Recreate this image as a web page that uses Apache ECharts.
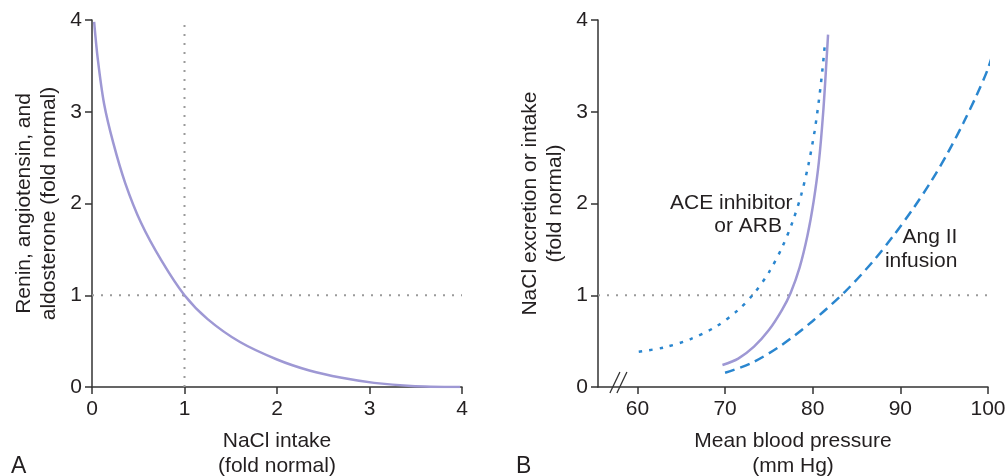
<!DOCTYPE html>
<html>
<head>
<meta charset="utf-8">
<script src="https://cdn.jsdelivr.net/npm/echarts@6/dist/echarts.min.js"></script>
<style>
html,body{margin:0;padding:0;background:#fff;}
#c{width:1008px;height:476px;}
</style>
</head>
<body>
<div id="c"></div>
<script>
// ---------- DATA ----------
// Panel A: hormone level vs NaCl intake
const curveA = [[0.023,3.98],[0.063,3.57],[0.13,3.09],[0.23,2.66],[0.36,2.22],[0.53,1.79],[0.75,1.38],[1.0,1.0],[1.25,0.74],[1.6,0.49],[2.0,0.30],[2.35,0.18],[2.7,0.10],[3.05,0.045],[3.45,0.012],[3.98,0.0]];
const refA_h = [[0,1],[4,1]];
const refA_v = [[1,0],[1,4]];
const ticksA = [0,1,2,3,4];

// Panel B: NaCl excretion vs mean blood pressure
const aceCurve = [[60.15,0.385],[63,0.43],[66,0.52],[69,0.66],[71.5,0.84],[73.3,1.02],[75,1.25],[76.5,1.52],[77.7,1.8],[78.7,2.1],[79.5,2.42],[80.2,2.78],[80.7,3.12],[81.1,3.45],[81.4,3.75]];
const normalCurve = [[69.7,0.24],[71.5,0.31],[73.3,0.44],[75.0,0.62],[76.5,0.84],[77.5,1.03],[78.5,1.30],[79.4,1.65],[80.1,2.02],[80.7,2.45],[81.2,3.0],[81.6,3.6],[81.75,3.84]];
const angCurve = [[70,0.155],[73,0.26],[76.5,0.46],[80,0.72],[83.7,1.04],[86.8,1.36],[89.3,1.66],[91.5,1.95],[93.5,2.24],[95.4,2.55],[97.2,2.88],[98.7,3.18],[100,3.47],[100.8,3.72]];
const refB_h = [[55.5,1],[100,1]];
const ticksB = [60,70,80,90,100];

const labelsB = [
  {text:'ACE inhibitor', x:77.7, y:2.0},
  {text:'or ARB', x:76.5, y:1.75},
  {text:'Ang II\ninfusion', x:96.5, y:1.5}
];
// ---------- CHART ----------
const FONT = '"Liberation Sans", Arial, Helvetica, sans-serif';
const FS = 21;
const TXT = '#231f20';
const AX = '#333333';
const PURPLE = '#9e98d4';
const BLUE = '#2a86cf';
const GREY = '#9a9a9a';

const chart = echarts.init(document.getElementById('c'), null, {renderer:'canvas'});

function xAxisCommon(extra){
  return Object.assign({
    type:'value',
    nameLocation:'middle',
    nameGap:42,
    nameTextStyle:{fontSize:FS, lineHeight:25, color:TXT, fontFamily:FONT},
    axisLine:{show:true, lineStyle:{color:AX, width:1.5}},
    axisTick:{show:true, length:7, lineStyle:{color:AX, width:1.5}},
    axisLabel:{fontSize:FS, color:TXT, fontFamily:FONT, margin:12},
    splitLine:{show:false}
  }, extra);
}
function yAxisCommon(extra){
  return Object.assign({
    type:'value', min:0, max:4, interval:1,
    nameLocation:'middle',
    nameGap:30,
    nameTextStyle:{fontSize:FS, lineHeight:25, color:TXT, fontFamily:FONT},
    axisLine:{show:true, lineStyle:{color:AX, width:1.5}},
    axisTick:{show:true, length:7, lineStyle:{color:AX, width:1.5}},
    axisLabel:{fontSize:FS, color:TXT, fontFamily:FONT, margin:10},
    splitLine:{show:false}
  }, extra);
}

const option = {
  animation:false,
  backgroundColor:'#fff',
  grid:[
    {left:92, right:546, top:20, bottom:89, containLabel:false, outerBoundsMode:'none'},
    {left:598, right:20, top:20, bottom:89, containLabel:false, outerBoundsMode:'none'}
  ],
  xAxis:[
    xAxisCommon({gridIndex:0, min:ticksA[0], max:ticksA[ticksA.length-1], interval:1, name:'NaCl intake\n(fold normal)'}),
    xAxisCommon({gridIndex:1, min:55.5, max:100, name:'Mean blood pressure\n(mm Hg)',
      axisTick:{show:true, length:7, lineStyle:{color:AX, width:1.5}, customValues:ticksB},
      axisLabel:{fontSize:FS, color:TXT, fontFamily:FONT, margin:12, customValues:ticksB}
    })
  ],
  yAxis:[
    yAxisCommon({gridIndex:0, name:'Renin, angiotensin, and\naldosterone (fold normal)'}),
    yAxisCommon({gridIndex:1, name:'NaCl excretion or intake\n(fold normal)'})
  ],
  series:[
    {type:'line', xAxisIndex:0, yAxisIndex:0, data:refA_h, symbol:'none', silent:true,
      lineStyle:{color:GREY, width:2, type:[2,7]}},
    {type:'line', xAxisIndex:0, yAxisIndex:0, data:refA_v, symbol:'none', silent:true,
      lineStyle:{color:GREY, width:2, type:[2,7]}},
    {type:'line', xAxisIndex:0, yAxisIndex:0, data:curveA, symbol:'none', smooth:0.3,
      lineStyle:{color:PURPLE, width:2.5}},
    {type:'line', xAxisIndex:1, yAxisIndex:1, data:refB_h, symbol:'none', silent:true,
      lineStyle:{color:GREY, width:2, type:[2,7]}},
    {type:'line', xAxisIndex:1, yAxisIndex:1, data:aceCurve, symbol:'none', smooth:0.3,
      lineStyle:{color:BLUE, width:2.5, type:[3.5,7]}},
    {type:'line', xAxisIndex:1, yAxisIndex:1, data:normalCurve, symbol:'none', smooth:0.3,
      lineStyle:{color:PURPLE, width:2.5}},
    {type:'line', xAxisIndex:1, yAxisIndex:1, data:angCurve, symbol:'none', smooth:0.3, clip:false,
      lineStyle:{color:BLUE, width:2.5, type:[10,6]}}
  ]
};
chart.setOption(option);

// annotations and decorations placed through the axes
const g = [];
labelsB.forEach(function(l){
  const p = chart.convertToPixel({gridIndex:1}, [l.x, l.y]);
  g.push({type:'text', x:p[0], y:p[1], style:{text:l.text, fontSize:FS, lineHeight:24, fill:TXT, font:FS+'px '+FONT, align:'right', verticalAlign:'middle'}});
});
// axis break mark
const bp = chart.convertToPixel({gridIndex:1}, [58.0, 0]);
g.push({type:'rect', shape:{x:bp[0]-5, y:bp[1]-3, width:8, height:6}, style:{fill:'#fff'}});
g.push({type:'line', shape:{x1:bp[0]-10, y1:bp[1]+6, x2:bp[0]+0, y2:bp[1]-15}, style:{stroke:AX, lineWidth:1.3}});
g.push({type:'line', shape:{x1:bp[0]-3, y1:bp[1]+6, x2:bp[0]+7, y2:bp[1]-15}, style:{stroke:AX, lineWidth:1.3}});
// panel letters
g.push({type:'text', left:11, top:455, style:{text:'A', font:'23px '+FONT, fill:TXT}});
g.push({type:'text', left:516, top:455, style:{text:'B', font:'23px '+FONT, fill:TXT}});
chart.setOption({graphic:g});
</script>
</body>
</html>
